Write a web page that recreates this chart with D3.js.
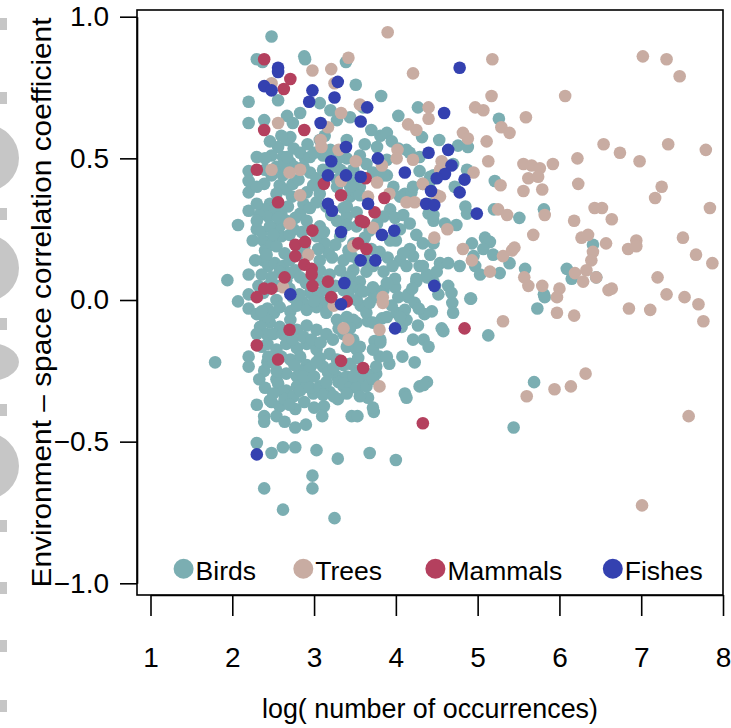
<!DOCTYPE html>
<html>
<head>
<meta charset="utf-8">
<script src="https://cdn.jsdelivr.net/npm/d3@7"></script>
<style>
  body { margin: 0; background: #fff; }
  svg { display: block; }
  text { font-family: "Liberation Sans", Arial, Helvetica, sans-serif; fill: #000; }
</style>
</head>
<body>
<svg id="chart" width="731" height="728"></svg>
<script>
// [log(number of occurrences), environment–space correlation coefficient]
const birds = [
  [2.48,0.93],[2.30,0.85],[2.37,0.84],[2.88,0.86],[2.89,0.85],[3.39,0.84],[3.51,0.76],[3.82,0.72],[2.20,0.70],[2.56,0.705],
  [2.20,0.625],[2.39,0.635],[2.67,0.65],[2.74,0.625],[2.71,0.575],[2.83,0.66],[3.20,0.67],[3.28,0.635],[3.44,0.645],[4.03,0.65],
  [4.27,0.68],[3.60,0.68],[3.07,0.695],[2.30,0.505],[2.56,0.54],[2.48,0.51],[2.62,0.505],[2.71,0.485],[2.89,0.50],[2.20,0.455],
  [2.20,0.42],[2.20,0.38],[2.39,0.41],[3.07,0.565],[3.11,0.51],[3.40,0.565],[3.81,0.58],[3.89,0.59],[3.77,0.54],[4.03,0.535],
  [4.13,0.53],[3.89,0.44],[2.07,0.265],[2.20,0.315],[2.30,0.25],[1.94,0.07],[2.20,0.09],[1.79,-0.22],
  [2.30,-0.37],[2.39,-0.41],[2.39,-0.43],[2.77,-0.385],[2.77,-0.45],[2.48,-0.36],[2.30,-0.505],[2.48,-0.54],[2.62,-0.52],[2.77,-0.52],
  [3.03,-0.53],[3.29,-0.56],[3.68,-0.54],[4.00,-0.565],[2.98,-0.62],[2.98,-0.665],[2.39,-0.665],[2.62,-0.74],[3.25,-0.77],
  [2.20,-0.20],[2.20,-0.235],[2.39,-0.25],[2.07,-0.005],[2.20,-0.03],[2.20,0.02],[2.30,-0.05],
  [3.46,-0.41],[3.53,-0.41],[3.73,-0.395],[3.72,-0.38],[3.12,-0.375],[3.29,-0.35],[3.66,-0.345],[4.11,-0.33],[4.13,-0.345],[4.08,-0.20],
  [4.23,-0.22],[3.92,-0.225],[3.80,-0.20],[3.66,-0.075],[4.21,-0.14],[4.29,-0.305],[3.57,-0.02],[3.83,-0.065],[4.27,-0.09],
  [3.72,0.025],[3.85,0.035],[3.99,0.045],[4.15,0.01],[4.25,0.065],[4.48,0.05],[4.64,0.05],[4.92,0.005],[4.69,-0.01],[4.70,-0.045],
  [4.44,-0.04],[4.07,-0.095],[4.56,-0.10],[4.58,-0.11],[4.34,-0.14],[4.40,-0.165],[5.13,-0.125],[3.81,-0.14],[3.74,-0.145],
  [3.67,-0.265],[3.76,-0.26],[3.56,-0.28],[3.46,-0.28],[3.40,-0.29],[3.36,-0.305],[4.38,-0.29],[4.34,-0.30],
  [5.82,0.01],[5.73,-0.03],[6.09,0.11],[6.15,0.075],[5.44,-0.45],[5.69,-0.29],[4.91,0.005],
  [5.26,0.64],[4.53,0.565],[4.76,0.545],[4.88,0.54],[4.32,0.575],[4.70,0.48],[4.87,0.46],[4.46,0.44],[4.72,0.40],[5.21,0.42],
  [4.85,0.33],[4.87,0.305],[5.20,0.32],[5.51,0.29],[5.81,0.32],[4.40,0.305],[4.46,0.28],[4.60,0.27],[4.74,0.265],[4.93,0.20],
  [5.09,0.22],[5.15,0.205],[5.07,0.18],[5.19,0.16],[5.39,0.13],[4.95,0.155],[4.97,0.12],[5.27,0.095],[5.03,0.09],[5.58,0.11],
  [6.41,0.195],[6.45,0.08],[4.54,0.13],[4.64,0.13],[4.78,0.12],[4.38,0.08],[4.46,0.065],[4.68,0.025],[5.81,0.02],
  [2.54,0.47],[2.64,0.48],[2.48,0.44],[2.58,0.405],[2.66,0.39],[2.74,0.41],[2.73,0.365],[2.54,0.375],[2.46,0.34],[2.40,0.32],
  [2.44,0.295],[2.54,0.32],[2.60,0.30],[2.68,0.33],[2.83,0.305],[2.77,0.29],[2.91,0.28],[2.87,0.34],[2.95,0.325],[3.03,0.345],
  [2.91,0.38],[2.99,0.405],[3.07,0.375],[2.81,0.425],[2.95,0.45],[3.03,0.43],[2.87,0.47],[3.11,0.46],[3.21,0.47],[3.15,0.33],
  [3.21,0.30],[3.28,0.28],[3.36,0.325],[3.40,0.295],[3.44,0.365],[3.48,0.39],[3.48,0.20],[3.42,0.175],[3.32,0.225],[3.26,0.195],
  [3.13,0.20],[3.18,0.165],[3.07,0.14],[2.38,0.21],[2.40,0.175],[2.48,0.195],[2.58,0.26],[2.60,0.225],[2.54,0.19],[2.64,0.165],
  [2.38,0.14],[2.44,0.12],[2.52,0.13],[2.62,0.12],[2.71,0.095],[2.66,0.07],[2.77,0.105],[2.83,0.08],[3.07,0.105],[3.11,0.065],
  [3.19,0.09],[3.32,0.105],[3.40,0.08],[3.48,0.105],[3.36,0.14],[3.46,0.155],[3.54,0.14],[3.40,0.265],[3.52,0.26],[3.40,0.33],
  [3.52,0.31],[3.07,0.26],[3.03,0.225],[2.38,0.025],[2.54,0.00],[2.74,0.01],[2.87,-0.01],[2.95,0.025],[3.07,0.025],[3.11,-0.01],
  [3.21,0.01],[3.52,0.00],[3.42,0.025],[3.28,0.425],[3.36,0.45],[3.52,0.41],[3.52,0.38],
  [3.40,0.50],[3.32,0.46],[3.44,0.42],[3.56,0.40],[3.89,0.495],[3.85,0.44],[4.17,0.52],[4.29,0.505],[4.29,0.455],[4.42,0.435],
  [4.11,0.375],[4.19,0.38],[4.05,0.365],[4.42,0.34],[4.46,0.30],[3.93,0.32],[3.85,0.295],[3.99,0.29],[3.77,0.27],[3.68,0.245],
  [3.64,0.14],[3.72,0.12],[3.64,0.10],[4.05,0.14],[4.13,0.12],[4.21,0.155],[4.17,0.18],[4.09,0.165],[4.29,0.12],[4.38,0.09],
  [4.25,0.075],[3.99,0.075],[3.89,0.06],[3.81,0.025],[3.44,0.08],[3.56,0.065],[3.36,0.035],[4.33,0.41],[4.41,0.415],
  [2.28,0.14],[2.32,0.05],[2.25,0.21],[2.33,0.30],
  [2.43,-0.03],[2.51,-0.045],[2.58,-0.025],[2.71,-0.04],[2.79,-0.02],[2.91,-0.035],[3.03,-0.025],[3.15,-0.045],[3.28,-0.07],[3.40,-0.06],
  [3.52,-0.08],[2.46,-0.08],[2.58,-0.095],[2.71,-0.07],[2.79,-0.105],[2.91,-0.09],[3.03,-0.105],[3.15,-0.12],[3.23,-0.14],[3.36,-0.12],
  [3.48,-0.14],[2.43,-0.155],[2.54,-0.175],[2.66,-0.155],[2.79,-0.17],[2.91,-0.155],[3.03,-0.175],[2.71,-0.21],[2.83,-0.20],[2.91,-0.23],
  [3.07,-0.205],[3.19,-0.19],[3.28,-0.21],[3.40,-0.165],[3.52,-0.175],[2.43,-0.22],[2.54,-0.28],[2.66,-0.26],[2.79,-0.27],[2.83,-0.25],
  [2.66,-0.32],[2.79,-0.305],[2.99,-0.33],[3.19,-0.325],[3.28,-0.27],[3.40,-0.27],[3.52,-0.25],[3.44,-0.225],[3.54,-0.205],[2.46,-0.355],
  [2.58,-0.375],[2.40,-0.065],[2.34,-0.095],[2.42,-0.12],[2.54,-0.25],[2.56,-0.295],[2.62,-0.325],[2.64,-0.35],[2.75,-0.34],[2.83,-0.32],
  [2.91,-0.29],[2.95,-0.31],[3.07,-0.305],[3.11,-0.335],[2.95,-0.24],[3.11,-0.235],[3.17,-0.255],[3.30,-0.29],[3.36,-0.295],[3.44,-0.31],
  [3.52,-0.31],[3.36,-0.23],[2.36,-0.165],[2.44,-0.20],[3.24,-0.34],[3.40,-0.33],[3.56,-0.34],[3.64,-0.305],[3.48,-0.27],[3.64,-0.26],
  [3.76,-0.235],[3.72,-0.28],[3.56,-0.165],[3.72,-0.175],[3.81,-0.15],[3.89,-0.20],[3.48,-0.07],[3.64,-0.045],[3.72,-0.08],[3.89,-0.06],
  [4.01,-0.045],[4.13,-0.07],[3.46,0.045],[3.56,0.035],[3.72,0.045],[4.03,0.01],[4.15,0.02],[4.23,-0.01],[4.11,-0.035],
  [2.67,0.565],[2.75,0.535],[2.67,0.505],[2.83,0.52],[2.95,0.505],[3.23,0.47],[3.48,0.46],[3.64,0.48],[3.72,0.45],[3.44,0.40],
  [3.28,0.40],[3.56,0.37],[3.97,0.40],[4.21,0.40],[3.93,0.21],[4.05,0.25],[4.17,0.27],[4.09,0.30],[4.25,0.23],[4.33,0.20],
  [4.46,0.20],[4.42,0.16],
  [2.30,0.28],[2.36,0.24],[2.46,0.26],[2.50,0.23],[2.56,0.29],[2.66,0.28],[2.70,0.23],[2.75,0.25],[2.85,0.24],[2.94,0.25],
  [2.88,0.19],[2.80,0.16],[2.70,0.14],[2.58,0.10],[2.48,0.08],[2.44,0.05],[2.54,0.05],[2.70,0.04],[2.82,0.02],[2.90,0.06],
  [3.00,0.08],[3.05,0.18],[3.12,0.24],[3.22,0.15],[3.26,0.05],[3.15,0.035],[3.00,-0.005],[2.36,0.09],[2.42,0.16],
  [2.30,-0.12],[2.36,-0.04],[2.50,-0.12],[2.62,-0.12],[2.74,-0.14],[2.87,-0.13],[2.97,-0.14],[3.08,-0.15],[3.30,-0.10],[3.44,-0.10],
  [2.50,-0.22],[2.60,-0.20],[2.76,-0.23],[2.87,-0.27],[3.00,-0.27],[3.03,-0.22],[3.15,-0.29],[3.24,-0.24],[2.33,-0.28],[2.40,-0.31],
  [2.50,-0.33],[2.70,-0.37],[2.88,-0.36],[3.00,-0.38],[3.10,-0.41],[2.54,-0.41],[2.64,-0.43],[2.90,-0.44],
  [2.40,0.50],[2.46,0.56],[2.60,0.58],[2.76,0.47],[2.62,0.44],[2.92,0.55],[3.00,0.52],[3.13,0.58],[3.20,0.53],[3.30,0.50],
  [3.56,0.51],[3.62,0.55],[3.70,0.60],[3.95,0.56],[2.40,0.46],[2.30,0.40],[2.30,0.34],
  [3.62,0.22],[3.70,0.18],[3.80,0.17],[3.90,0.15],[3.96,0.12],[4.00,0.21],[3.85,0.10],[3.60,0.03],[3.68,-0.01],[3.78,0.01],
  [3.95,-0.02],[4.05,-0.06],[4.20,0.04],[4.33,0.12],[4.50,0.10],[4.52,0.02],[4.35,-0.05],[4.28,-0.03]
];

const trees = [
  [5.18,0.85],[7.02,0.86],[7.31,0.85],[7.47,0.79],[5.17,0.72],[6.07,0.72],[4.40,0.68],[4.40,0.64],[4.97,0.68],[5.07,0.67],
  [5.59,0.645],[5.29,0.61],[5.39,0.59],[4.82,0.59],[4.88,0.57],[5.11,0.56],[6.54,0.55],[7.33,0.55],[7.79,0.53],[6.74,0.52],
  [6.98,0.49],[6.22,0.50],[5.13,0.49],[5.56,0.48],[5.66,0.475],[5.76,0.465],[5.92,0.48],[5.62,0.43],[5.74,0.435],[5.56,0.385],
  [5.79,0.39],[6.23,0.41],[7.25,0.40],[7.17,0.36],[7.84,0.325],[4.54,0.46],[4.56,0.49],[4.33,0.41],[4.95,0.45],[5.28,0.405],
  [4.54,0.365],[6.43,0.325],[6.52,0.325],[6.64,0.285],[6.18,0.28],[5.25,0.32],[5.36,0.30],[5.82,0.30],[5.68,0.23],[4.47,0.22],
  [4.63,0.25],[4.82,0.18],[4.93,0.14],[5.15,0.10],[5.31,0.155],[5.42,0.175],[5.45,0.185],[6.27,0.22],[6.35,0.23],[6.57,0.20],
  [6.41,0.17],[6.39,0.14],[6.33,0.105],[6.29,0.065],[6.19,0.095],[6.45,0.08],[6.84,0.18],[6.94,0.21],[6.94,0.19],[7.51,0.22],
  [7.67,0.16],[7.87,0.13],[7.20,0.08],[5.57,0.08],[5.62,0.05],[5.79,0.05],[6.00,0.04],[6.60,0.035],[6.64,0.04],[7.31,0.02],
  [7.53,0.01],[5.97,0.01],[5.97,-0.045],[6.18,-0.055],[6.85,-0.03],[7.11,-0.035],[7.70,-0.015],[7.76,-0.075],[5.31,-0.075],[6.32,-0.26],
  [5.94,-0.315],[6.14,-0.305],[5.60,-0.34],[7.58,-0.41],[7.01,-0.725],
  [3.90,0.945],[3.42,0.855],[2.98,0.81],[3.21,0.815],[4.21,0.80],[2.48,0.765],[3.56,0.69],[3.33,0.66],[3.17,0.61],[2.56,0.625],
  [4.15,0.62],[4.25,0.60],[3.08,0.565],[3.09,0.54],[3.30,0.53],[4.02,0.53],[4.01,0.50],[4.21,0.495],[3.51,0.49],[3.83,0.475],
  [2.48,0.46],[2.70,0.45],[2.83,0.46],[3.33,0.42],[3.77,0.415],[2.83,0.37],[3.66,0.365],[3.92,0.375],[4.13,0.345],[4.23,0.345],
  [2.70,0.27],[3.48,0.19],[3.72,0.255],[2.93,0.16],[2.62,0.045],[3.84,0.01],[3.84,-0.01],[3.24,-0.02],[3.36,-0.10],[3.42,-0.14],
  [3.80,-0.105],[3.80,-0.305],[4.50,0.37],[3.25,0.765]
];

const mammals = [
  [2.39,0.85],[2.71,0.78],[2.63,0.745],[2.39,0.60],[2.88,0.60],[2.30,0.46],[3.12,0.41],[3.33,0.37],[3.86,0.36],[3.63,0.43],
  [3.74,0.31],[2.56,0.345],[2.98,0.245],[3.57,0.28],[3.61,0.275],[2.77,0.195],[2.89,0.205],[2.77,0.155],[3.54,0.20],[3.64,0.18],
  [2.88,0.125],[2.97,0.11],[2.97,0.09],[2.64,0.08],[2.98,0.05],[3.17,0.065],[2.39,0.04],[2.48,0.04],[2.30,0.01],[3.21,0.01],
  [3.40,-0.005],[2.70,-0.105],[2.30,-0.16],[2.56,-0.21],[3.33,-0.215],[3.60,-0.24],[4.84,-0.10],[4.33,-0.435]
];

const fishes = [
  [2.56,0.82],[2.56,0.805],[2.39,0.755],[2.48,0.74],[3.29,0.77],[2.98,0.74],[2.94,0.70],[3.25,0.715],[3.65,0.68],[3.08,0.625],
  [3.57,0.63],[3.39,0.54],[3.78,0.50],[3.21,0.49],[3.17,0.44],[3.39,0.44],[3.57,0.435],[4.11,0.45],[3.17,0.34],[3.22,0.315],
  [3.66,0.34],[3.33,0.24],[3.83,0.23],[3.98,0.245],[3.57,0.14],[3.75,0.14],[3.37,0.06],[2.71,0.02],[3.33,-0.015],[3.99,-0.10],
  [2.30,-0.545],[4.78,0.82],[4.59,0.66],[4.64,0.53],[4.40,0.52],[4.68,0.475],[4.60,0.445],[4.50,0.43],[4.84,0.425],[4.78,0.38],
  [4.43,0.385],[4.37,0.34],[4.47,0.335],[4.99,0.305],[4.47,0.05]
];

const groupNames = ["Birds", "Trees", "Mammals", "Fishes"];
const xTicks = [1, 2, 3, 4, 5, 6, 7, 8];
const yTicks = [-1, -0.5, 0, 0.5, 1];
const yTickLabels = ["\u22121.0", "\u22120.5", "0.0", "0.5", "1.0"];
const xTitle = "log( number of occurrences)";
const yTitle = "Environment \u2013 space correlation coefficient";

const colors = ["#7BAEB2", "#C8ACA2", "#B4405E", "#3441B0"];
const series = [birds, trees, mammals, fishes];

const svg = d3.select("#chart");
const box = { left: 137, right: 723, top: 10, bottom: 595 };

const x = d3.scaleLinear().domain([1, 8]).range([150.5, 723]);
const y = d3.scaleLinear().domain([-1, 1]).range([583.3, 16.7]);

// faint grey fragments along the left margin
const edge = svg.append("g").attr("fill", "#C6C6C6");
[18, 92, 208, 318, 404, 520, 582, 640, 700].forEach(t =>
  edge.append("rect").attr("x", 0).attr("y", t).attr("width", 7).attr("height", 12));
[[158, 34], [268, 34], [362, 20], [466, 34]].forEach(([cy, ry]) =>
  edge.append("ellipse").attr("cx", -16).attr("cy", cy).attr("rx", 35).attr("ry", ry));

// points, drawn group by group
series.forEach((pts, i) => {
  svg.append("g").selectAll("circle").data(pts).join("circle")
    .attr("cx", d => x(d[0]))
    .attr("cy", d => y(d[1]))
    .attr("r", 6.3)
    .attr("fill", colors[i]);
});

// plot frame
svg.append("rect")
  .attr("x", box.left).attr("y", box.top)
  .attr("width", box.right - box.left).attr("height", box.bottom - box.top)
  .attr("fill", "none").attr("stroke", "#000").attr("stroke-width", 1.6);

// axes
const yAxis = d3.axisLeft(y).tickValues(yTicks).tickSize(17).tickSizeOuter(0).tickPadding(11)
  .tickFormat((d, i) => yTickLabels[i]);
const gy = svg.append("g").attr("transform", `translate(${box.left},0)`).call(yAxis);

const xAxis = d3.axisBottom(x).tickValues(xTicks).tickSize(21).tickSizeOuter(0).tickPadding(31)
  .tickFormat(d3.format("d"));
const gx = svg.append("g").attr("transform", `translate(0,${box.bottom})`).call(xAxis);

[gx, gy].forEach(g => {
  g.select(".domain").attr("stroke", "#000").attr("stroke-width", 1.6);
  g.selectAll(".tick line").attr("stroke", "#000").attr("stroke-width", 1.6);
  g.selectAll(".tick text").attr("font-size", 28).attr("fill", "#000")
    .attr("font-family", "'Liberation Sans', Arial, sans-serif");
});

// axis titles
svg.append("text")
  .attr("x", (box.left + box.right) / 2).attr("y", 718)
  .attr("text-anchor", "middle").attr("font-size", 27)
  .attr("textLength", 336).attr("lengthAdjust", "spacingAndGlyphs")
  .text(xTitle);

svg.append("text")
  .attr("transform", `translate(51,${(box.top + box.bottom) / 2}) rotate(-90)`)
  .attr("text-anchor", "middle").attr("font-size", 28)
  .attr("textLength", 570).attr("lengthAdjust", "spacingAndGlyphs")
  .text(yTitle);

// legend
const legendX = [183.6, 303.3, 435.4, 612.8];
const legend = svg.append("g");
groupNames.forEach((name, i) => {
  legend.append("circle").attr("cx", legendX[i]).attr("cy", 568.7).attr("r", 10).attr("fill", colors[i]);
  legend.append("text").attr("x", legendX[i] + 12).attr("y", 580)
    .attr("font-size", 26.5).text(name);
});
</script>
</body>
</html>
